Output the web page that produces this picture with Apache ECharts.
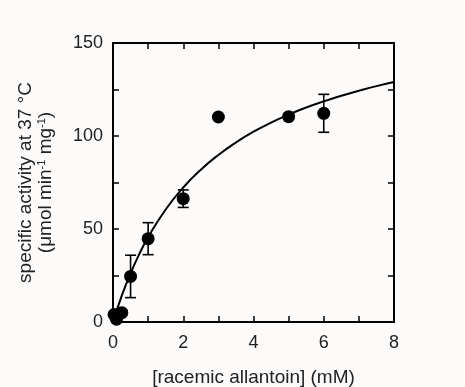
<!DOCTYPE html>
<html lang="en">
<head>
    <meta charset="utf-8">
    <title>allantoin activity</title>
    <style>
        html, body { margin: 0; padding: 0; background: #fdfbfa; }
        #main { width: 465px; height: 387px; }
    </style>
</head>
<body>
    <div id="main"></div>
    <script src="https://cdn.jsdelivr.net/npm/echarts@6/dist/echarts.min.js"></script>
    <script>
    // measured points: concentration (mM), activity, error
    var concX = [0.03, 0.1, 0.25, 0.5, 1, 2, 3, 5, 6];
    var activity = [4, 1.5, 5, 24.5, 44.8, 66.3, 110.2, 110.4, 112.2];
    var errors = [0, 0, 1.5, 11.4, 8.6, 4.7, 0, 1.5, 10.2];

    // fitted curve
    var fitX = [0, 0.25, 0.5, 0.75, 1, 1.5, 2, 2.5, 3, 3.5, 4, 4.5, 5, 5.5, 6, 6.5, 7, 7.5, 8];
    var fitY = [0, 14.2, 26.2, 36.6, 45.6, 60.5, 72.3, 81.9, 89.8, 96.5, 102.3, 107.2, 111.5, 115.3, 118.6, 121.6, 124.3, 126.8, 129.0];

    var xTicks = [0, 2, 4, 6, 8];
    var yTicks = [0, 50, 100, 150];

    var FONT = 'Liberation Sans';
    var chart = echarts.init(document.getElementById('main'));

    var points = concX.map(function (x, i) { return [x, activity[i]]; });
    var bars = concX.map(function (x, i) { return [x, activity[i] - errors[i], activity[i] + errors[i]]; })
        .filter(function (d) { return d[2] - d[1] > 0; });
    var curve = fitX.map(function (x, i) { return [x, fitY[i]]; });

    function boxAxis(extra) {
        var base = {
            type: 'value',
            axisLine: { show: true, onZero: false, lineStyle: { color: '#000', width: 2 } },
            axisTick: { show: true, inside: true, length: 6, lineStyle: { color: '#000', width: 1.5 } },
            splitLine: { show: false },
            axisLabel: { show: false }
        };
        return Object.assign(base, extra);
    }

    var option = {
        backgroundColor: '#fdfbfa',
        animation: false,
        grid: { left: 113, right: 71, top: 43, bottom: 65, outerBoundsMode: 'none' },
        xAxis: [
            boxAxis({
                min: 0, max: 8, interval: 1,
                name: '[racemic allantoin] (mM)',
                nameLocation: 'middle',
                nameGap: 46,
                nameTextStyle: { fontFamily: FONT, fontSize: 19, color: '#222' },
                axisLabel: {
                    show: true, margin: 12, fontFamily: FONT, fontSize: 18, color: '#222',
                    formatter: function (v) { return xTicks.indexOf(v) >= 0 ? String(v) : ''; }
                }
            }),
            boxAxis({ min: 0, max: 8, interval: 1, position: 'top' })
        ],
        yAxis: [
            boxAxis({
                min: 0, max: 150, interval: 25,
                name: 'specific activity at 37 °C\n(μmol min{s|-1} mg{s|-1})',
                nameLocation: 'middle',
                nameGap: 57,
                nameTextStyle: {
                    fontFamily: FONT, fontSize: 19, color: '#222', lineHeight: 20,
                    rich: { s: { fontFamily: FONT, fontSize: 11, color: '#222', verticalAlign: 'top', lineHeight: 20 } }
                },
                axisLabel: {
                    show: true, margin: 10, fontFamily: FONT, fontSize: 18, color: '#222',
                    formatter: function (v) { return yTicks.indexOf(v) >= 0 ? String(v) : ''; }
                }
            }),
            boxAxis({ min: 0, max: 150, interval: 25, position: 'right' })
        ],
        series: [
            {
                type: 'line',
                data: curve,
                smooth: true,
                showSymbol: false,
                lineStyle: { color: '#000', width: 2 },
                z: 2
            },
            {
                type: 'custom',
                data: bars,
                renderItem: function (params, api) {
                    var x = api.value(0);
                    var lo = api.coord([x, api.value(1)]);
                    var hi = api.coord([x, api.value(2)]);
                    var cap = 5.5;
                    var st = { stroke: '#000', lineWidth: 1.6 };
                    return {
                        type: 'group',
                        children: [
                            { type: 'line', shape: { x1: lo[0], y1: lo[1], x2: hi[0], y2: hi[1] }, style: st },
                            { type: 'line', shape: { x1: lo[0] - cap, y1: lo[1], x2: lo[0] + cap, y2: lo[1] }, style: st },
                            { type: 'line', shape: { x1: hi[0] - cap, y1: hi[1], x2: hi[0] + cap, y2: hi[1] }, style: st }
                        ]
                    };
                },
                z: 3
            },
            {
                type: 'scatter',
                data: points,
                symbol: 'circle',
                symbolSize: 13,
                itemStyle: { color: '#000', opacity: 1 },
                z: 4
            }
        ]
    };

    chart.setOption(option);
    </script>
</body>
</html>
